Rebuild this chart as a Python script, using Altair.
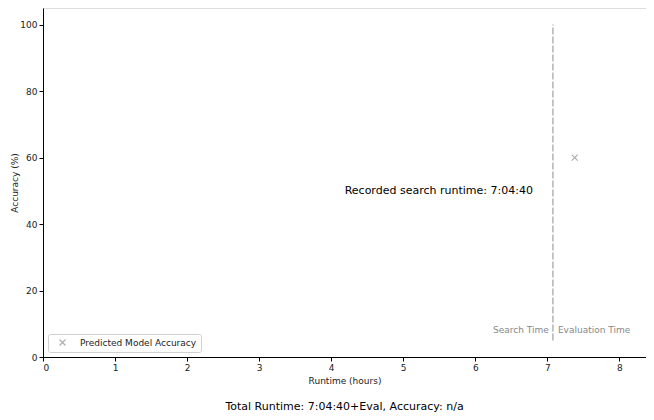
import altair as alt
import pandas as pd

# data
point_x = [7.38]
point_y = [60]
series_name = ["Predicted Model Accuracy"]
search_runtime_h = [7.0778]
rule_y = [5]
rule_y2 = [100]
text_label = ["Recorded search runtime: 7:04:40"]
text_x = [6.80]
text_y = [50]
phase_labels = ["Search Time", "Evaluation Time"]
phase_y = [8, 8]
x_ticks = [0, 1, 2, 3, 4, 5, 6, 7, 8]
y_ticks = [0, 20, 40, 60, 80, 100]

X_DOMAIN = [0, 8.37]
Y_DOMAIN = [0, 105]
FONT = "DejaVu Sans"
W, H = 603, 349

xs = alt.Scale(domain=X_DOMAIN, nice=False, zero=False)
ys = alt.Scale(domain=Y_DOMAIN, nice=False)

xaxis = alt.Axis(values=x_ticks, format="d", title="Runtime (hours)", grid=False,
                 domainColor="black", tickColor="black", labelColor="#222",
                 titleColor="#222", labelFontSize=9, titleFontSize=9,
                 titleFontWeight="normal", labelFont=FONT, titleFont=FONT,
                 tickSize=4, titlePadding=4, labelPadding=2)
yaxis = alt.Axis(values=y_ticks, format="d", title="Accuracy (%)", grid=False,
                 domainColor="black", tickColor="black", labelColor="#222",
                 titleColor="#222", labelFontSize=9, titleFontSize=9,
                 titleFontWeight="normal", labelFont=FONT, titleFont=FONT,
                 tickSize=4, labelPadding=2,
                 titleX=-29, titleY=H / 2, titleAngle=270,
                 titleAlign="center", titleBaseline="middle")

pts = pd.DataFrame({"x": point_x, "y": point_y, "s": series_name})
XPATH = "M-1,-1L1,1M-1,1L1,-1"

points = alt.Chart(pts).mark_point(shape=XPATH, filled=False, size=36, strokeWidth=1.2).encode(
    x=alt.X("x:Q", scale=xs, axis=xaxis),
    y=alt.Y("y:Q", scale=ys, axis=yaxis),
    color=alt.Color("s:N", scale=alt.Scale(domain=series_name, range=["#8c8c8c"]),
                    legend=alt.Legend(title=None, orient="none", legendX=5, legendY=H - 23,
                                      symbolType=XPATH, symbolSize=36, symbolStrokeWidth=1.2,
                                      labelFontSize=9, labelFont=FONT, labelColor="#222",
                                      strokeColor="#d0d0d0", fillColor="white",
                                      padding=4, cornerRadius=2, symbolOffset=6,
                                      labelOffset=13)),
)

rdf = pd.DataFrame({"x": search_runtime_h, "y": rule_y, "y2": rule_y2})
rule = alt.Chart(rdf).mark_rule(color="#a8a8a8", strokeDash=[7, 2], strokeWidth=1.3).encode(
    x=alt.X("x:Q", scale=xs), y=alt.Y("y:Q", scale=ys), y2="y2:Q")

tdf = pd.DataFrame({"x": text_x, "y": text_y, "t": text_label})
txt = alt.Chart(tdf).mark_text(align="right", baseline="middle", fontSize=11, font=FONT,
                               color="black").encode(
    x=alt.X("x:Q", scale=xs), y=alt.Y("y:Q", scale=ys), text="t:N")

pdf = pd.DataFrame({"x": [search_runtime_h[0], search_runtime_h[0]], "y": phase_y,
                    "t": phase_labels})
left_lbl = alt.Chart(pdf.iloc[[0]]).mark_text(align="right", dx=-4, baseline="middle",
                                               fontSize=9, font=FONT, color="#888").encode(
    x=alt.X("x:Q", scale=xs), y=alt.Y("y:Q", scale=ys), text="t:N")
right_lbl = alt.Chart(pdf.iloc[[1]]).mark_text(align="left", dx=5, baseline="middle",
                                                fontSize=9, font=FONT, color="#888").encode(
    x=alt.X("x:Q", scale=xs), y=alt.Y("y:Q", scale=ys), text="t:N")

chart = alt.layer(rule, points, txt, left_lbl, right_lbl).properties(
    width=W, height=H,
    autosize=alt.AutoSizeParams(type="none"),
    padding={"left": 35, "top": 0, "right": 0, "bottom": 55},
    title=alt.TitleParams("Total Runtime: 7:04:40+Eval, Accuracy: n/a", orient="bottom",
                          fontSize=11, font=FONT, fontWeight="normal", color="black",
                          offset=16, anchor="middle"),
).configure_view(stroke="black", strokeWidth=1).configure(background="white")

chart.save("out.html", embed_options={"renderer": "svg", "actions": False})
